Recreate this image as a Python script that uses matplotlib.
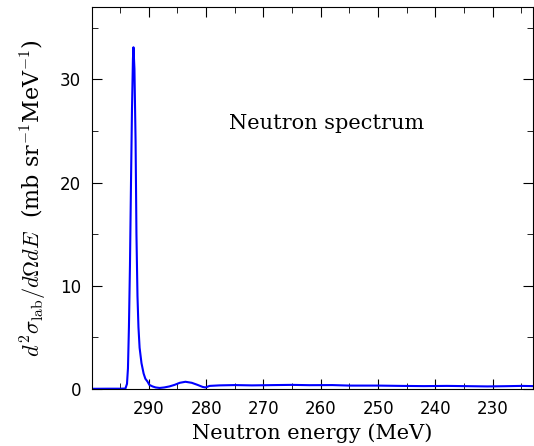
import matplotlib
matplotlib.use("Agg")
import matplotlib.pyplot as plt
from matplotlib.ticker import MultipleLocator

plt.rcParams['font.family'] = ['DejaVu Serif']
plt.rcParams['mathtext.fontset'] = 'cm'

energy = [300.0, 297.0, 295.0, 294.3, 294.07, 293.8, 293.63, 293.46, 293.28, 293.1, 292.93,
          292.76, 292.67, 292.5, 292.3, 292.15, 291.97, 291.8, 291.6, 291.27, 290.9,
          290.6, 290.2, 289.9, 289.35, 288.8, 288.1, 287.3, 286.4, 285.5, 284.6,
          283.6, 282.5, 281.5, 280.6, 280.1, 279.4, 277.7, 275.0, 272.0, 268.0,
          265.0, 262.0, 258.0, 255.0, 250.0, 246.0, 242.0, 238.0, 235.0, 231.0,
          228.0, 225.0, 223.0]
xsec = [0.02, 0.03, 0.03, 0.04, 0.05, 0.5, 2.0, 6.0, 12.0, 20.0, 27.0,
        32.0, 33.1, 31.0, 24.0, 15.0, 9.0, 6.0, 4.0, 2.5, 1.5,
        1.0, 0.7, 0.4, 0.25, 0.15, 0.1, 0.15, 0.25, 0.4, 0.6,
        0.7, 0.6, 0.4, 0.2, 0.15, 0.3, 0.35, 0.38, 0.35, 0.38,
        0.4, 0.37, 0.38, 0.33, 0.33, 0.3, 0.28, 0.3, 0.28, 0.25,
        0.27, 0.3, 0.28]

fig = plt.figure(figsize=(5.34, 4.46), dpi=100)
ax = fig.add_axes([0.1723, 0.1278, 0.8257, 0.8565])
ax.plot(energy, xsec, color='#0000ff', lw=1.5)
ax.set_xlim(299.9, 223)
ax.set_ylim(0, 37)
ax.xaxis.set_major_locator(MultipleLocator(10))
ax.xaxis.set_minor_locator(MultipleLocator(5))
ax.yaxis.set_major_locator(MultipleLocator(10))
ax.yaxis.set_minor_locator(MultipleLocator(5))
ax.tick_params(which='both', direction='in', top=True, right=True, labelsize=12, pad=8)
ax.tick_params(which='major', length=7)
ax.tick_params(which='minor', length=4)
for lab in ax.get_xticklabels() + ax.get_yticklabels():
    lab.set_family('DejaVu Sans')
ax.set_xlabel('Neutron energy (MeV)', fontsize=15, labelpad=4)
ax.set_ylabel(r'$d^2\sigma_{\rm lab}/d\Omega dE$  (mb sr$^{-1}$MeV$^{-1}$)', fontsize=16, labelpad=8)
ax.text(259, 25.7, 'Neutron spectrum', fontsize=15, ha='center', va='center')
fig.savefig('out.png', dpi=100)
